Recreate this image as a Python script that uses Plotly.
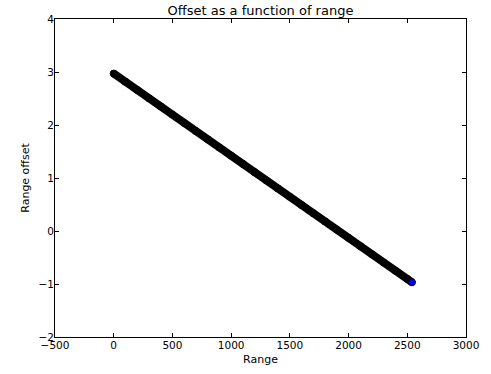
import plotly.graph_objects as go

range_vals = [0, 100, 200, 300, 400, 500, 600, 700, 800, 900, 1000, 1100, 1200,
              1300, 1400, 1500, 1600, 1700, 1800, 1900, 2000, 2100, 2200, 2300,
              2400, 2500, 2540]
offset_vals = [2.97, 2.815, 2.66, 2.505, 2.35, 2.195, 2.04, 1.885, 1.73, 1.575,
               1.42, 1.265, 1.11, 0.955, 0.80, 0.645, 0.49, 0.335, 0.18, 0.025,
               -0.13, -0.285, -0.44, -0.595, -0.75, -0.905, -0.967]
x_ticks = [-500, 0, 500, 1000, 1500, 2000, 2500, 3000]
y_ticks = [-2, -1, 0, 1, 2, 3, 4]

marker_colors = ["black"] * (len(range_vals) - 1) + ["#0000ff"]

fig = go.Figure()
fig.add_trace(go.Scatter(
    x=range_vals, y=offset_vals, mode="lines+markers",
    line=dict(color="black", width=8),
    marker=dict(size=7, opacity=1, color=marker_colors, line=dict(color="black", width=1)),
    showlegend=False,
))

axis_common = dict(
    showgrid=False, zeroline=False, showline=True, linecolor="black", linewidth=1,
    mirror="ticks", ticks="inside", ticklen=4, tickcolor="black", automargin=False,
    ticklabelstandoff=-2,
    tickfont=dict(family="DejaVu Sans", size=10.5, color="black"),
)
fig.update_xaxes(range=[-500, 3000], tickvals=x_ticks,
                 title=dict(text="Range", font=dict(family="DejaVu Sans", size=11, color="black"), standoff=5),
                 **axis_common)
fig.update_yaxes(range=[-2, 4], tickvals=y_ticks,
                 title=dict(text="Range offset", font=dict(family="DejaVu Sans", size=11, color="black"), standoff=6),
                 **axis_common)
fig.update_layout(
    width=491, height=374,
    margin=dict(l=55, r=25, t=19, b=37),
    paper_bgcolor="white", plot_bgcolor="white",
    title=dict(text="Offset as a function of range", x=0.5, xanchor="center", xref="paper",
               y=1 - 10 / 374, yanchor="middle",
               font=dict(family="DejaVu Sans", size=13, color="black")),
)
fig.write_html("out.html", config={"displayModeBar": False},
               post_script="document.body.style.margin='0';document.body.style.overflow='hidden';")
